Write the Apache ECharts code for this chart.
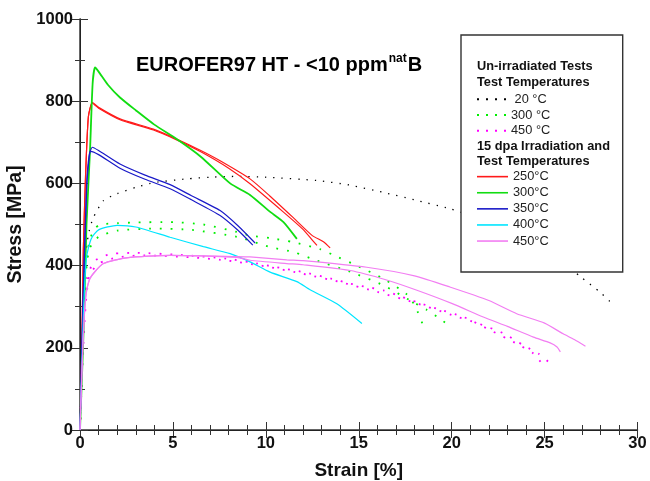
<!DOCTYPE html>
<html><head><meta charset="utf-8">
<script src="https://cdn.jsdelivr.net/npm/echarts@6/dist/echarts.min.js"></script>
<style>html,body{margin:0;padding:0;background:#fff}#c{width:650px;height:481px}</style>
</head><body><div id="c"></div>
<script>
// ---- Un-irradiated tests (dotted) ----
const u20_x  = [0,0.1,0.2,0.3,0.45,0.7,1.26,2,3.05,4,5.75,7,8.44,10,12.75,14.5,16.33,18,19.93,21,22,23,24,25,26,26.93,28,28.64];
const u20_y  = [0,150,320,420,475,515,558,575,591,602,611,615,617,615,607,596,578,560,538,522,506,488,466,440,408,373,335,307];
const u300a_x = [0,0.15,0.3,0.5,0.8,1.08,2,3.05,4.85,6.64,8.44,9.15,10.23,11.49,12.92,13.91,14.9,16.33,17.59,18.05,18.49];
const u300a_y = [0,200,380,460,490,500,503,505,506,500,482,473,467,457,440,420,400,368,330,300,251];
const u300b_x = [0,0.15,0.3,0.5,1,2,4,6,8.44,10.23,11.49,12.75,14.54,16.33,17.77,18.67,19.4,19.93];
const u300b_y = [0,200,370,440,470,485,490,487,470,445,433,412,385,352,315,292,270,251];
const u450a_x = [0,0.1,0.25,0.4,0.72,1.2,1.8,3.05,5.39,7.9,9.15,10.59,12.03,13.55,14.54,15.43,16.33,17.32,18.13,19.2,20.64,22.07,23.5,24.4,24.85];
const u450a_y = [0,150,300,370,409,422,429,431,426,417,408,396,384,368,356,348,340,324,311,295,275,243,210,186,162];
const u450b_x = [0,0.12,0.3,0.5,1,2,3.5,6,8,10,12,14,16,18,20,21.5,22.8,23.9,24.7,25.3];
const u450b_y = [0,150,300,375,405,420,425,420,412,398,380,360,336,310,280,258,235,205,185,162];

// ---- 15 dpa irradiated tests (solid) ----
const i250a_x = [0,0.1,0.18,0.3,0.45,0.66,1,2.15,3.95,5.2,6.5,7.54,9.15,10.2,11.49,12.5,13.1,13.46];
const i250a_y = [0,200,438,620,762,797,785,757,732,708,680,655,611,570,516,473,458,443];
const i250b_x = [0,0.1,0.18,0.3,0.45,0.66,1,2.15,3.95,5.2,6.5,8,9.15,10.95,12,12.5,12.75];
const i250b_y = [0,200,438,620,762,795,783,755,730,706,677,637,599,530,488,462,449];
const i300_x = [0,0.2,0.35,0.54,0.68,0.81,1.0,1.5,2.15,3,4,5.2,6.5,8.08,9.15,10.2,10.95,11.67];
const i300_y = [0,250,500,681,843,882,872,840,809,778,743,708,665,600,572,532,506,465];
const i350a_x = [0,0.15,0.36,0.5,0.66,1,2.15,3.5,4.85,6,7.54,8.5,9.42];
const i350a_y = [0,300,600,670,688,680,647,620,597,570,534,497,455];
const i350b_x = [0,0.15,0.36,0.5,0.57,1,2.15,3.5,4.85,6,7.54,8.5,9.3];
const i350b_y = [0,280,590,665,678,670,637,610,587,560,522,486,450];
const i400_x = [0,0.2,0.35,0.6,1,2,3,4.85,6.64,8.08,9.15,10.23,11.67,12.38,13.82,15.17];
const i400_y = [0,300,420,465,487,498,494,469,446,429,409,384,361,341,307,259];
const i450a_x = [0,0.15,0.3,0.5,0.8,1.26,2.5,4.85,8.44,9.15,11.13,12,15.43,18,19.9,22,23.5,25,26,26.6,27.2];
const i450a_y = [0,200,320,365,385,405,419,425,422,421,414,412,396,375,348,315,283,260,234,220,204];
const i450b_x = [0,0.15,0.3,0.5,0.8,1.26,2.5,4.85,8.44,9.15,11.13,12,14.54,16.5,18.13,20,21.7,23,24.4,25.3,25.67,25.85];
const i450b_y = [0,200,320,365,385,405,419,425,420,413,405,402,388,365,340,308,275,252,226,212,202,190];

const xTicks = {min:0, max:30, interval:5};
const yTicks = {min:0, max:1000, interval:200};

const zip = (xs, ys) => xs.map((x, i) => [x, ys[i]]);
const FONT = 'Liberation Sans, Arial, sans-serif';
const DOT_ICON = 'path://M0,0h2v2h-2z M9,0h2v2h-2z M18,0h2v2h-2z M27,0h2v2h-2z';

function dotted(name, xs, ys, color, w, dash) {
  return {type:'line', name, data:zip(xs, ys), symbol:'none', smooth:0.2,
    lineStyle:{color, width:w, type:dash}, itemStyle:{color}, emphasis:{disabled:true}};
}
function solid(name, xs, ys, color, w) {
  return {type:'line', name, data:zip(xs, ys), symbol:'none', smooth:0.2,
    lineStyle:{color, width:w}, itemStyle:{color}, emphasis:{disabled:true}};
}

const series = [
  dotted('20 °C', u20_x, u20_y, '#000000', 1.3, [1.3, 7]),
  dotted('300 °C', u300a_x, u300a_y, '#00ee00', 1.8, [1.8, 9]),
  dotted('300 °C', u300b_x, u300b_y, '#00ee00', 1.8, [1.8, 9]),
  dotted('450 °C', u450a_x, u450a_y, '#ff00ff', 1.8, [1.8, 9]),
  dotted('450 °C', u450b_x, u450b_y, '#ff00ff', 1.8, [1.8, 9]),
  solid('250°C', i250a_x, i250a_y, '#ff1a1a', 1.2),
  solid('250°C', i250b_x, i250b_y, '#ff1a1a', 1.2),
  solid('300°C', i300_x, i300_y, '#11dd11', 1.8),
  solid('350°C', i350a_x, i350a_y, '#1a1ac8', 1.2),
  solid('350°C', i350b_x, i350b_y, '#1a1ac8', 1.2),
  solid('400°C', i400_x, i400_y, '#00e5ff', 1.2),
  solid('450°C', i450a_x, i450a_y, '#f27ef2', 1.2),
  solid('450°C', i450b_x, i450b_y, '#f27ef2', 1.2)
];

const axisLine = {lineStyle:{color:'#333', width:1.5}};
const tickLbl = {fontFamily:FONT, fontWeight:'bold', fontSize:16.5, color:'#111', formatter:v => String(v)};

const option = {
  animation:false,
  backgroundColor:'#fff',
  grid:{left:80, right:12.5, top:19, bottom:51, containLabel:false, outerBoundsMode:'none'},
  title:{
    text:'{a|EUROFER97 HT - <10 ppm}{s|nat}{a|B}',
    left:131, top:48,
    textStyle:{rich:{
      a:{fontFamily:FONT, fontWeight:'bold', fontSize:20, color:'#000', lineHeight:24},
      s:{fontFamily:FONT, fontWeight:'bold', fontSize:12, color:'#000', verticalAlign:'top', lineHeight:12, padding:[0,1,0,1]}
    }}
  },
  xAxis:[
    {type:'value', min:xTicks.min, max:xTicks.max, interval:xTicks.interval, position:'bottom',
     name:'Strain [%]', nameLocation:'middle', nameGap:31,
     nameTextStyle:{fontFamily:FONT, fontWeight:'bold', fontSize:19, color:'#111'},
     axisLine, axisTick:{inside:true, length:8, lineStyle:{color:'#333'}},
     minorTick:{show:true, splitNumber:5, length:5, lineStyle:{color:'#333'}},
     axisLabel:Object.assign({margin:5}, tickLbl), splitLine:{show:false}},
    {type:'value', min:xTicks.min, max:xTicks.max, interval:xTicks.interval, position:'top',
     axisLine:{lineStyle:{color:'#222', width:1}}, axisTick:{inside:true, length:8, lineStyle:{color:'#333'}},
     minorTick:{show:true, splitNumber:5, length:5, lineStyle:{color:'#333'}},
     axisLabel:{show:false}, splitLine:{show:false}}
  ],
  yAxis:[
    {type:'value', min:yTicks.min, max:yTicks.max, interval:yTicks.interval, position:'left',
     name:'Stress [MPa]', nameLocation:'middle', nameGap:52, nameRotate:90,
     nameTextStyle:{fontFamily:FONT, fontWeight:'bold', fontSize:19.5, color:'#111'},
     axisLine, axisTick:{inside:true, length:8, lineStyle:{color:'#333'}},
     minorTick:{show:true, splitNumber:2, length:5, lineStyle:{color:'#333'}},
     axisLabel:Object.assign({margin:7}, tickLbl), splitLine:{show:false}},
    {type:'value', min:yTicks.min, max:yTicks.max, interval:yTicks.interval, position:'right',
     axisLine:{lineStyle:{color:'#222', width:1}}, axisTick:{inside:true, length:8, lineStyle:{color:'#333'}},
     minorTick:{show:true, splitNumber:2, length:5, lineStyle:{color:'#333'}},
     axisLabel:{show:false}, splitLine:{show:false}}
  ],
  legend:[
    {data:['20 °C','300 °C','450 °C'], orient:'vertical', left:477, top:91.5, itemWidth:29, itemHeight:2, itemGap:0,
     icon:DOT_ICON, z:60, selectedMode:false, padding:0,
     formatter:n => n === '20 °C' ? ' 20 °C' : n,
     textStyle:{fontFamily:FONT, fontSize:12.8, color:'#222', lineHeight:15.7}},
    {data:['250°C','300°C','350°C','400°C','450°C'], orient:'vertical', left:477, top:168.6, itemWidth:31, itemHeight:1.6, itemGap:0,
     icon:'rect', z:60, selectedMode:false, padding:0,
     textStyle:{fontFamily:FONT, fontSize:12.8, color:'#222', lineHeight:16.1}}
  ],
  graphic:[
    {type:'rect', z:50, shape:{x:461, y:35, width:161.7, height:237}, style:{fill:'#fff', stroke:'#333', lineWidth:1.4}},
    {type:'text', z:55, x:477, y:66, style:{text:'Un-irradiated Tests', font:'bold 12.8px '+FONT, fill:'#111', textVerticalAlign:'middle'}},
    {type:'text', z:55, x:477, y:82.5, style:{text:'Test Temperatures', font:'bold 12.8px '+FONT, fill:'#111', textVerticalAlign:'middle'}},
    {type:'text', z:55, x:477, y:146.7, style:{text:'15 dpa Irradiation and', font:'bold 12.8px '+FONT, fill:'#111', textVerticalAlign:'middle'}},
    {type:'text', z:55, x:477, y:161.7, style:{text:'Test Temperatures', font:'bold 12.8px '+FONT, fill:'#111', textVerticalAlign:'middle'}}
  ],
  series
};

const chart = echarts.init(document.getElementById('c'), null, {renderer:'canvas'});
chart.setOption(option);
</script></body></html>
